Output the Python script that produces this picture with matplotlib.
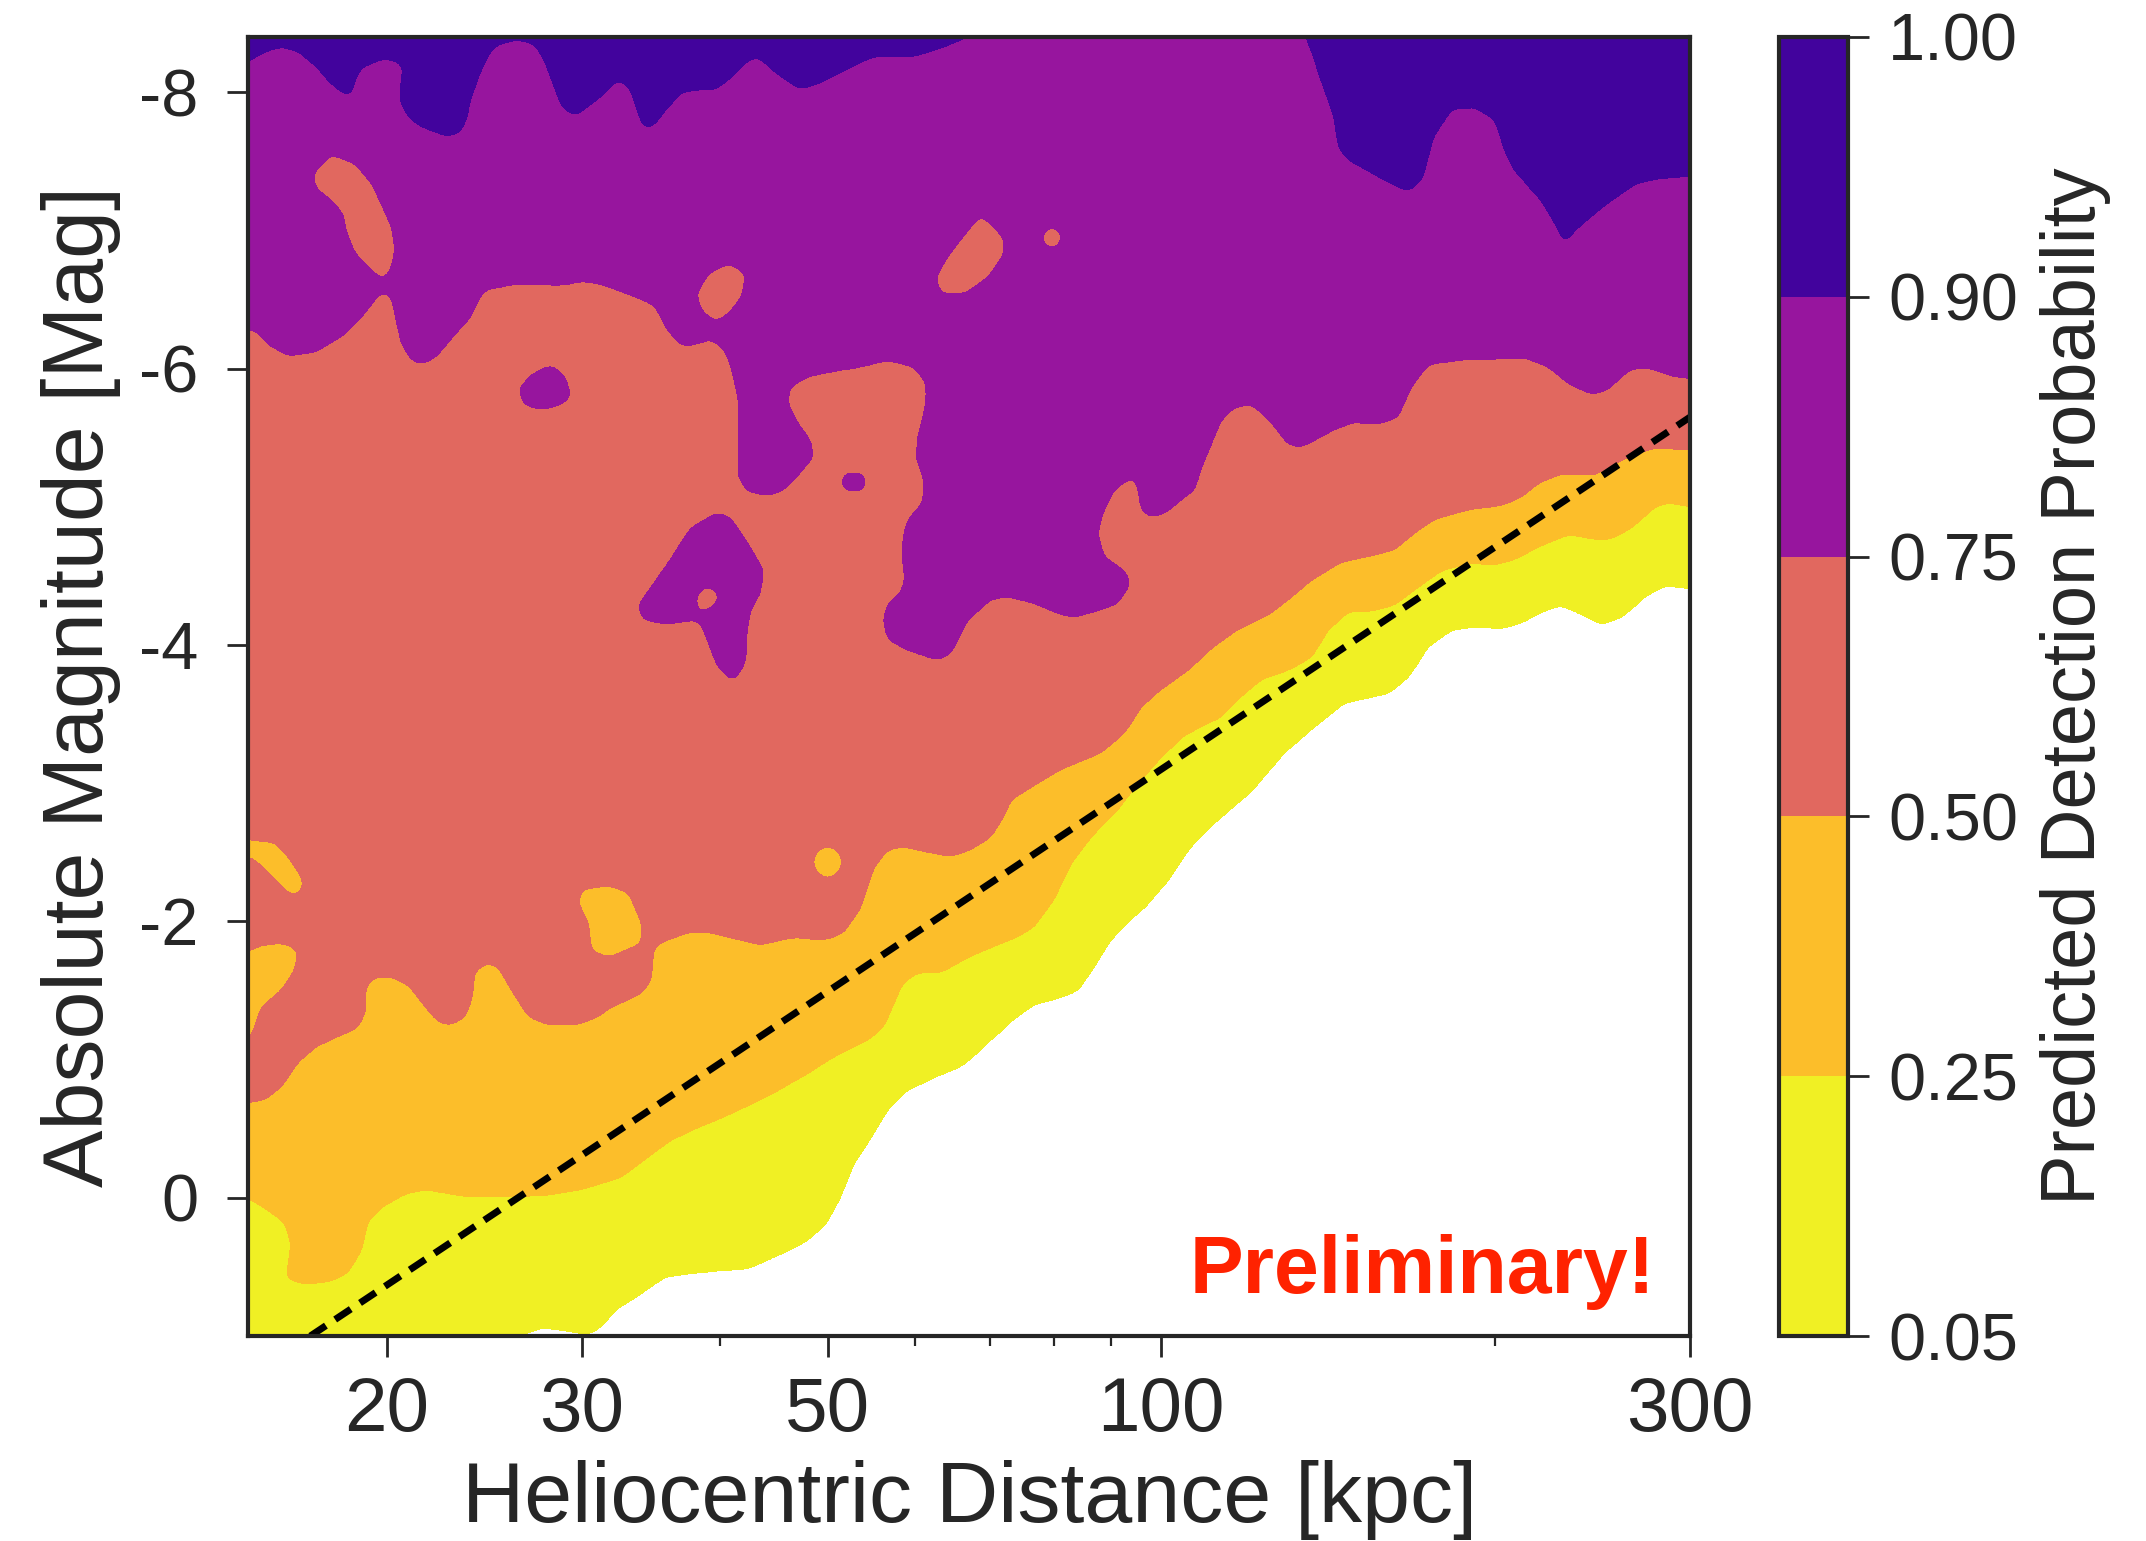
import numpy as np
import matplotlib
matplotlib.use("Agg")
import matplotlib.pyplot as plt
from matplotlib.path import Path
import matplotlib.ticker as mticker

plt.rcParams['font.family'] = ['Liberation Sans', 'DejaVu Sans']
plt.rcParams['axes.unicode_minus'] = False
plt.rcParams['text.color'] = '#262626'
plt.rcParams['axes.labelcolor'] = '#262626'
plt.rcParams['xtick.color'] = '#262626'
plt.rcParams['ytick.color'] = '#262626'

# ---------------- data ----------------
levels = [0.05, 0.25, 0.50, 0.75, 0.90, 1.00]
level_labels = ['0.05', '0.25', '0.50', '0.75', '0.90', '1.00']
band_colors = ['#f0f024', '#fcbe2a', '#e1685f', '#97159e', '#42039d']

xticks_major = [20, 30, 50, 100, 300]
xticks_minor = [40, 60, 70, 80, 90, 200]
yticks = [-8, -6, -4, -2, 0]

# contour boundaries (distance [kpc], absolute magnitude) -- region brighter than the curve
b05_d = [15.0, 24.31, 26.15, 27.59, 29.0, 30.42, 31.26, 32.18, 33.54, 35.71, 38.24, 42.43, 44.7, 47.97, 49.91,
         51.38, 52.8, 54.36, 56.66, 59.07, 62.35, 65.94, 68.74, 72.72, 76.76, 81.19, 84.1, 86.95, 90.1, 91.98,
         97.3, 101.5, 105.8, 111.6, 118.1, 122.3, 129.1, 136.6, 146.3, 153.9, 160.3, 167.2, 174.2, 182.8, 191.7,
         202.8, 211.3, 221.8, 229.7, 237.9, 249.6, 260.3, 273.1, 284.7, 300.0]
b05_M = [1.32, 1.17, 1.01, 0.94, 0.96, 0.99, 0.93, 0.81, 0.72, 0.57, 0.54, 0.51, 0.43, 0.31, 0.18,
         -0.01, -0.25, -0.40, -0.64, -0.78, -0.87, -0.95, -1.07, -1.26, -1.40, -1.45, -1.50, -1.67, -1.87, -1.94,
         -2.13, -2.30, -2.52, -2.71, -2.88, -3.00, -3.22, -3.39, -3.58, -3.62, -3.65, -3.77, -3.99, -4.11, -4.13,
         -4.12, -4.16, -4.25, -4.29, -4.23, -4.15, -4.20, -4.35, -4.43, -4.41]

b25_d = [15.0, 15.64, 16.19, 16.4, 16.3, 16.23, 16.75, 17.72, 18.47, 18.98, 19.26, 19.78, 20.8, 21.68, 23.56,
         26.15, 28.0, 29.98, 32.58, 34.47, 36.15, 38.24, 40.12, 42.43, 44.7, 47.97, 50.63, 54.36, 56.19, 57.37,
         58.57, 60.3, 63.25, 66.92, 70.63, 74.23, 76.76, 80.01, 82.91, 86.42, 91.4, 95.28, 100.0, 104.2, 108.6,
         113.3, 118.9, 123.1, 130.3, 136.6, 141.5, 147.5, 155.7, 162.3, 170.6, 179.0, 189.3, 199.9, 208.3, 218.9,
         233.1, 244.5, 253.4, 265.8, 278.9, 287.1, 300.0]
b25_M = [0.00, 0.09, 0.18, 0.33, 0.50, 0.58, 0.62, 0.61, 0.54, 0.38, 0.16, 0.07, -0.03, -0.06, -0.01,
         -0.01, -0.02, -0.06, -0.15, -0.30, -0.42, -0.51, -0.58, -0.67, -0.76, -0.90, -1.02, -1.14, -1.24, -1.41,
         -1.56, -1.63, -1.63, -1.74, -1.82, -1.89, -1.96, -2.16, -2.42, -2.61, -2.81, -3.00, -3.19, -3.33, -3.41,
         -3.48, -3.65, -3.75, -3.82, -3.91, -4.11, -4.24, -4.25, -4.29, -4.42, -4.54, -4.59, -4.58, -4.62, -4.71,
         -4.80, -4.77, -4.76, -4.85, -5.00, -5.03, -5.00]

b50_d = [15.0, 15.53, 16.06, 16.64, 17.25, 17.98, 18.85, 19.18, 19.18, 19.54, 20.19, 20.93, 21.68, 22.27, 22.88,
         23.56, 23.91, 24.01, 24.57, 25.23, 25.93, 26.86, 28.0, 29.61, 30.86, 31.92, 33.97, 34.68, 34.82, 35.41,
         37.46, 39.05, 40.96, 43.5, 46.3, 50.01, 51.71, 53.56, 55.04, 56.66, 58.57, 61.58, 64.6, 67.34, 70.19,
         72.11, 73.17, 76.29, 81.19, 88.23, 92.56, 95.9, 100.0, 105.8, 111.6, 117.1, 125.0, 130.3, 136.6, 145.3,
         155.7, 162.3, 169.2, 176.4, 189.3, 202.8, 211.3, 218.8, 229.7, 246.0, 260.3, 278.9, 300.0]
b50_M = [-0.69, -0.71, -0.80, -0.98, -1.09, -1.16, -1.23, -1.36, -1.53, -1.60, -1.60, -1.54, -1.38, -1.27, -1.25,
         -1.31, -1.45, -1.63, -1.70, -1.67, -1.50, -1.31, -1.25, -1.25, -1.30, -1.38, -1.48, -1.58, -1.79, -1.85,
         -1.92, -1.92, -1.88, -1.83, -1.88, -1.87, -1.92, -2.10, -2.39, -2.52, -2.54, -2.50, -2.47, -2.52, -2.61,
         -2.76, -2.88, -2.97, -3.10, -3.22, -3.36, -3.55, -3.68, -3.82, -3.99, -4.11, -4.22, -4.33, -4.47, -4.60,
         -4.65, -4.69, -4.81, -4.91, -4.98, -5.01, -5.07, -5.17, -5.24, -5.23, -5.34, -5.43, -5.41]

b75_d = [15.0, 15.3, 15.6, 16.3, 17.25, 18.2, 18.98, 19.54, 19.86, 20.19, 20.4, 20.62, 21.06, 21.5, 22.14,
         23.07, 23.81, 24.21, 24.57, 26.15, 27.42, 28.41, 29.18, 29.98, 31.26, 33.97, 34.97, 35.71, 36.68, 37.38,
         38.48, 39.21, 40.12, 40.63, 40.96, 41.47, 41.55, 41.47, 42.34, 44.15, 45.63, 47.27, 48.57, 48.27, 46.97,
         46.01, 46.3, 47.97, 50.63, 53.56, 56.66, 59.81, 61.33, 61.33, 60.3, 60.05, 61.05, 60.92, 59.07, 58.44,
         58.56, 58.19, 56.66, 56.07, 56.66, 59.07, 62.86, 64.6, 66.92, 70.19, 72.72, 76.76, 81.19, 83.42, 86.95,
         91.4, 93.92, 92.56, 88.79, 87.66, 88.79, 90.65, 92.95, 94.5, 95.3, 95.87, 97.93, 101.1, 104.2, 107.1,
         108.6, 113.3, 116.4, 120.6, 125.0, 130.2, 133.8, 143.3, 149.3, 157.9, 163.6, 168.2, 174.2, 186.5, 202.7,
         212.6, 223.6, 233.1, 244.5, 253.4, 264.2, 273.1, 290.7, 300.0]
b75_M = [-6.28, -6.27, -6.18, -6.09, -6.12, -6.23, -6.37, -6.50, -6.56, -6.52, -6.35, -6.18, -6.06, -6.03, -6.08,
         -6.25, -6.37, -6.50, -6.57, -6.61, -6.61, -6.60, -6.61, -6.63, -6.61, -6.50, -6.45, -6.30, -6.18, -6.16,
         -6.19, -6.21, -6.16, -6.08, -5.99, -5.80, -5.56, -5.22, -5.11, -5.08, -5.12, -5.25, -5.36, -5.48, -5.61,
         -5.75, -5.87, -5.94, -5.98, -6.01, -6.06, -6.01, -5.90, -5.75, -5.51, -5.36, -5.19, -5.03, -4.91, -4.78,
         -4.45, -4.38, -4.30, -4.18, -4.04, -3.96, -3.89, -3.94, -4.18, -4.33, -4.35, -4.30, -4.22, -4.20, -4.24,
         -4.30, -4.45, -4.54, -4.64, -4.81, -4.98, -5.12, -5.19, -5.21, -5.12, -4.98, -4.92, -4.96, -5.05, -5.12,
         -5.27, -5.63, -5.72, -5.74, -5.63, -5.45, -5.43, -5.56, -5.61, -5.60, -5.65, -5.87, -6.03, -6.06, -6.07,
         -6.08, -6.01, -5.89, -5.81, -5.85, -5.99, -6.01, -5.94, -5.93]

b90_d = [15.0, 15.5, 16.1, 16.7, 17.3, 17.8, 18.35, 18.6, 18.75, 19.0, 19.8, 20.4, 20.7, 20.6, 20.6,
         21.0, 21.5, 22.7, 23.3, 23.6, 23.8, 24.2, 24.7, 25.1, 26.2, 27.0, 27.4, 27.8, 28.3, 28.8,
         29.6, 30.9, 31.9, 32.4, 32.9, 33.3, 34.0, 34.5, 35.0, 35.7, 36.9, 38.4, 39.6, 41.0, 42.2,
         43.2, 45.1, 47.3, 49.3, 52.5, 55.0, 59.8, 63.3, 65.9, 68.7, 131.0, 135.0, 137.0, 139.0, 143.0,
         144.5, 147.5, 157.0, 167.0, 172.0, 176.0, 183.0, 192.0, 200.0, 204.0, 208.0, 220.0, 227.0, 231.0, 236.0,
         250.0, 268.0, 283.0, 300.0]
b90_M = [-8.22, -8.29, -8.33, -8.29, -8.18, -8.07, -7.98, -7.99, -8.10, -8.18, -8.24, -8.23, -8.18, -8.05, -7.92,
         -7.81, -7.75, -7.68, -7.71, -7.80, -7.94, -8.11, -8.27, -8.34, -8.38, -8.36, -8.31, -8.22, -8.05, -7.89,
         -7.83, -7.94, -8.05, -8.09, -8.06, -7.99, -7.77, -7.73, -7.78, -7.87, -8.00, -8.02, -8.02, -8.11, -8.22,
         -8.26, -8.13, -8.02, -8.07, -8.18, -8.26, -8.26, -8.32, -8.38, -8.43, -8.43, -8.40, -8.27, -8.11, -7.84,
         -7.60, -7.51, -7.39, -7.28, -7.37, -7.68, -7.88, -7.89, -7.80, -7.58, -7.44, -7.22, -7.04, -6.90, -7.00,
         -7.17, -7.34, -7.38, -7.39]

# closed pockets (distance [kpc], magnitude)
pocket50_a_d = [14.75, 15.09, 15.87, 16.30, 16.82, 16.75, 16.40, 15.64, 15.09, 14.75]
pocket50_a_M = [-2.59, -2.59, -2.57, -2.47, -2.30, -2.21, -2.19, -2.35, -2.47, -2.47]
pocket50_b_d = [14.75, 15.09, 15.42, 16.19, 16.64, 16.53, 16.06, 15.42, 15.09, 14.75]
pocket50_b_M = [-1.79, -1.79, -1.83, -1.84, -1.79, -1.65, -1.50, -1.38, -1.16, -1.16]
pocket50_c_d = [29.98, 31.72, 33.06, 33.97, 33.97, 31.72, 30.61, 30.42, 29.79]
pocket50_c_M = [-2.23, -2.26, -2.21, -1.99, -1.84, -1.74, -1.79, -1.99, -2.13]
pocket50_d_d = [48.47, 48.88, 50.01, 51.16, 51.58, 51.16, 50.01, 48.88]
pocket50_d_M = [-2.43, -2.51, -2.55, -2.51, -2.43, -2.35, -2.31, -2.35]

pocket75_a_d = [17.18, 17.83, 18.74, 19.38, 19.78, 20.19, 20.36, 20.15, 19.86, 19.54, 18.74, 18.39, 18.28, 17.83, 17.25]
pocket75_a_M = [-7.41, -7.55, -7.48, -7.34, -7.19, -7.03, -6.86, -6.71, -6.64, -6.69, -6.83, -7.00, -7.12, -7.22, -7.31]
pocket75_b_d = [38.08, 39.05, 40.71, 42.17, 41.81, 40.71, 39.62, 38.48]
pocket75_b_M = [-6.54, -6.69, -6.76, -6.69, -6.52, -6.40, -6.34, -6.42]
pocket75_c_d = [68.74, 72.11, 72.11, 69.75, 66.36, 63.26, 62.6, 64.2, 66.92]
pocket75_c_M = [-7.11, -6.95, -6.83, -6.66, -6.54, -6.54, -6.66, -6.81, -7.00]
pocket75_d_d = [78.03, 78.5, 79.68, 80.85, 81.35, 80.85, 79.68, 78.5]
pocket75_d_M = [-6.95, -7.00, -7.03, -7.00, -6.95, -6.89, -6.87, -6.89]

island75_a_d = [26.31, 27.03, 28.17, 29.0, 29.35, 28.77, 27.59, 26.58]
island75_a_M = [-5.85, -5.96, -6.03, -5.94, -5.80, -5.74, -5.70, -5.74]
island75_b_d = [33.68, 35.86, 37.62, 39.78, 40.88, 42.34, 43.78, 43.5, 42.6, 42.34, 42.16, 41.05, 39.78, 38.4, 37.85, 35.86, 34.11]
island75_b_M = [-4.28, -4.59, -4.85, -4.96, -4.92, -4.74, -4.54, -4.38, -4.25, -4.11, -3.87, -3.73, -3.84, -4.16, -4.18, -4.15, -4.18]
island75_c_d = [51.38, 51.8, 52.8, 53.8, 54.2, 53.8, 52.8, 51.8]
island75_c_M = [-5.18, -5.24, -5.25, -5.24, -5.18, -5.12, -5.11, -5.12]
pocket_in_island_d = [38.16, 38.08, 38.64, 39.44, 39.92, 39.44]
pocket_in_island_M = [-4.23, -4.35, -4.42, -4.41, -4.35, -4.28]

line_d = [17.07, 300.0]
line_M = [1.0, -5.65]

# ---------------- build the probability map ----------------
nx, ny = 1000, 900
lx = np.linspace(np.log10(15.0), np.log10(300.0), nx)
my = np.linspace(-8.4, 1.0, ny)
LX, MY = np.meshgrid(lx, my)
pts = np.column_stack([LX.ravel(), MY.ravel()])


def above(d, M):
    x = np.log10(d)
    verts = [(x[0] - 0.3, -11.0), (x[0] - 0.3, M[0])] + list(zip(x, M)) + \
            [(x[-1] + 0.3, M[-1]), (x[-1] + 0.3, -11.0)]
    return Path(verts).contains_points(pts).reshape(LX.shape).astype(float)


def inside(d, M):
    return Path(list(zip(np.log10(d), M))).contains_points(pts).reshape(LX.shape).astype(float)


v = (above(b05_d, b05_M) + above(b25_d, b25_M) + above(b50_d, b50_M)
     + above(b75_d, b75_M) + above(b90_d, b90_M))
for d, M in [(pocket50_a_d, pocket50_a_M), (pocket50_b_d, pocket50_b_M),
             (pocket50_c_d, pocket50_c_M), (pocket50_d_d, pocket50_d_M),
             (pocket75_a_d, pocket75_a_M), (pocket75_b_d, pocket75_b_M),
             (pocket75_c_d, pocket75_c_M), (pocket75_d_d, pocket75_d_M),
             (pocket_in_island_d, pocket_in_island_M)]:
    v -= inside(d, M)
for d, M in [(island75_a_d, island75_a_M), (island75_b_d, island75_b_M),
             (island75_c_d, island75_c_M)]:
    v += inside(d, M)


def smooth(a, s):
    r = int(3 * s)
    k = np.exp(-0.5 * (np.arange(-r, r + 1) / s) ** 2)
    k /= k.sum()
    a = np.pad(a, r, mode='edge')
    a = np.apply_along_axis(lambda q: np.convolve(q, k, mode='valid'), 0, a)
    a = np.apply_along_axis(lambda q: np.convolve(q, k, mode='valid'), 1, a)
    return a


v = smooth(v, 3.0)
P = np.interp(v, [0, 0.5, 1.5, 2.5, 3.5, 4.5, 5.0], [0.0] + levels)
P = np.clip(P, 0.0, 1.0)

# ---------------- figure ----------------
fig = plt.figure(figsize=(10.73, 7.705), dpi=200)
ax = fig.add_axes([0.1156, 0.133, 0.672, 0.843])
cs = ax.contourf(10 ** LX, MY, P, levels=levels, colors=band_colors)
ax.plot(line_d, line_M, color='black', lw=2.5, ls=(0, (2.7, 1.6)))

ax.set_xscale('log')
ax.set_xlim(15, 300)
ax.set_ylim(1.0, -8.4)
ax.xaxis.set_major_locator(mticker.FixedLocator(xticks_major))
ax.xaxis.set_major_formatter(mticker.FixedFormatter([str(t) for t in xticks_major]))
ax.xaxis.set_minor_locator(mticker.FixedLocator(xticks_minor))
ax.xaxis.set_minor_formatter(mticker.NullFormatter())
ax.set_yticks(yticks)
ax.set_yticklabels([str(t) for t in yticks])
ax.tick_params(axis='both', which='major', length=7.5, width=1.0)
ax.tick_params(axis='x', which='major', labelsize=27.5, pad=7.0)
ax.tick_params(axis='y', which='major', labelsize=24, pad=10.5)
ax.tick_params(axis='x', which='minor', length=3.5, width=0.8)
ax.tick_params(axis='y', which='minor', left=False)
for sp in ax.spines.values():
    sp.set_linewidth(1.5)
    sp.set_color('#262626')

ax.set_xlabel('Heliocentric Distance [kpc]', fontsize=31, labelpad=4.5)
ax.set_ylabel('Absolute Magnitude [Mag]', fontsize=31, labelpad=6.5)

ax.text(0.976, 0.033, 'Preliminary!', transform=ax.transAxes, ha='right', va='baseline',
        color='#ff2200', fontsize=29, fontweight='bold')

cax = fig.add_axes([0.829, 0.133, 0.032, 0.843])
cb = fig.colorbar(cs, cax=cax, ticks=levels)
cb.ax.set_yticklabels(level_labels)
cb.outline.set_linewidth(1.5)
cb.outline.set_edgecolor('#262626')
cax.tick_params(length=7.5, width=1.0, labelsize=24, pad=7)
cb.set_label('Predicted Detection Probability', fontsize=27.3, labelpad=8)

fig.savefig('out.png', dpi=200)
